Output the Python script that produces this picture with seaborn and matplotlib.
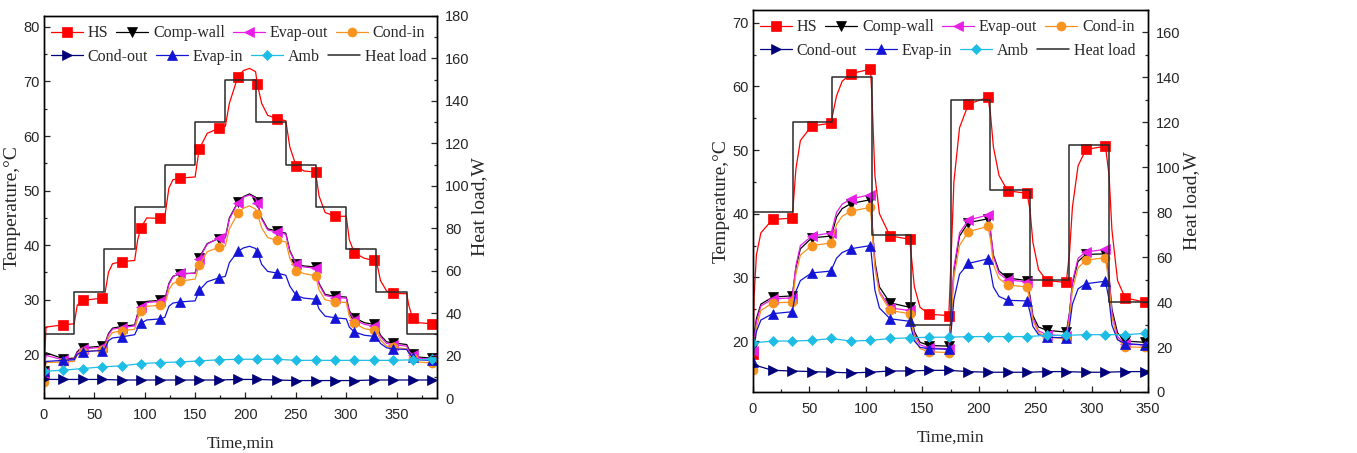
import numpy as np
import matplotlib
matplotlib.use("Agg")
import matplotlib.pyplot as plt
from matplotlib.ticker import MultipleLocator
import seaborn as sns

# --- 1. Data (read off the two test runs) ---
# left run: ramp up / ramp down of heat load, markers every 19.25 min
left_marker_t = [0, 19.25, 38.5, 57.75, 77, 96.25, 115.5, 134.75, 154, 173.25, 192.5,
                 211.75, 231, 250.25, 269.5, 288.75, 308, 327.25, 346.5, 365.75, 385]
left_t = [0, 2, 19.25, 30, 33, 38.5, 57.75, 60, 64, 68, 77, 90, 93, 96.25, 102, 115.5,
          120, 124, 128, 134.75, 150, 154, 162, 173.25, 180, 184, 192.5, 198, 204, 210,
          211.75, 216, 222, 231, 240, 244, 250.25, 258, 269.5, 273, 279, 288.75, 300, 303,
          308, 318, 327.25, 330, 334, 340, 346.5, 360, 362, 365.75, 372, 385, 389]
left_hs = [16.5, 25.0, 25.4, 25.6, 29.0, 29.9, 30.3, 30.6, 35.0, 36.6, 37.0, 37.2, 41.0, 43.2,
           45.0, 44.9, 45.3, 50.5, 52.0, 52.3, 52.5, 57.6, 60.5, 61.4, 61.8, 66.0, 70.9, 72.0,
           72.4, 71.8, 69.5, 66.0, 63.8, 63.2, 62.8, 58.0, 54.5, 53.6, 53.4, 49.0, 46.0, 45.3,
           45.3, 41.0, 38.6, 37.6, 37.2, 37.0, 33.5, 31.6, 31.2, 31.1, 29.0, 26.7, 25.8, 25.6, 25.6]
left_comp = [17.0, 20.3, 19.2, 19.3, 20.5, 21.2, 21.5, 21.7, 23.8, 24.8, 25.1, 25.4, 27.5, 28.8,
             29.7, 29.9, 30.1, 33.0, 34.3, 34.7, 34.9, 37.7, 40.3, 41.2, 41.4, 45.0, 47.9, 48.9,
             49.4, 48.8, 47.9, 45.0, 43.0, 42.6, 42.2, 39.0, 36.6, 36.2, 36.0, 33.0, 31.0, 30.6,
             30.5, 28.0, 26.7, 25.8, 25.5, 25.3, 23.5, 22.3, 22.1, 21.8, 21.0, 20.1, 19.5, 19.3, 19.3]
left_evap_out = [16.5, 19.8, 19.0, 19.1, 20.3, 21.0, 21.3, 21.5, 23.6, 24.6, 24.9, 25.2, 27.3,
                 28.6, 29.5, 29.7, 29.9, 32.8, 34.2, 34.9, 34.8, 37.5, 40.2, 41.3, 41.3, 44.8,
                 47.8, 48.8, 49.2, 48.6, 47.7, 44.8, 42.8, 42.4, 42.0, 38.8, 36.6, 36.0, 35.8,
                 32.8, 30.8, 30.4, 30.3, 27.8, 26.3, 25.5, 25.2, 25.0, 23.2, 22.0, 21.8, 21.5,
                 20.7, 19.8, 19.3, 19.1, 19.1]
left_cond_in = [15.0, 18.5, 18.6, 18.7, 19.8, 20.5, 20.8, 21.0, 23.0, 24.0, 24.3, 24.6, 26.5,
                27.9, 28.8, 29.0, 29.2, 31.8, 33.0, 33.4, 33.8, 36.3, 38.8, 39.6, 39.9, 43.0,
                45.9, 46.8, 47.2, 46.6, 45.8, 43.2, 41.4, 40.9, 40.6, 37.6, 35.3, 34.8, 34.4,
                31.8, 30.0, 29.6, 29.5, 27.0, 25.7, 24.7, 24.4, 24.3, 22.6, 21.5, 21.3, 21.0,
                20.2, 19.4, 18.6, 18.4, 18.4]
left_evap_in = [17.0, 18.7, 18.9, 19.0, 20.0, 20.5, 20.7, 20.9, 22.5, 23.0, 23.2, 23.6, 24.8,
                25.7, 26.3, 26.5, 26.8, 28.8, 29.4, 29.6, 29.8, 31.7, 33.3, 34.0, 34.3, 36.8,
                38.9, 39.5, 39.8, 39.4, 38.8, 36.5, 35.2, 34.9, 34.5, 32.5, 30.8, 30.3, 30.1,
                28.3, 27.0, 26.7, 26.5, 25.0, 24.1, 23.5, 23.3, 23.2, 22.0, 21.2, 21.0, 20.9,
                20.3, 19.5, 19.0, 18.9, 18.9]
left_slow_t = left_marker_t + [389]
left_amb = [16.9, 17.1, 17.4, 17.7, 17.9, 18.3, 18.5, 18.6, 18.8, 19.0, 19.1, 19.1, 19.1,
            18.9, 18.9, 18.9, 18.9, 18.9, 18.9, 19.0, 19.1, 19.1]
left_cond_out = [15.4, 15.4, 15.4, 15.4, 15.3, 15.3, 15.3, 15.3, 15.3, 15.3, 15.4, 15.4, 15.3,
                 15.2, 15.2, 15.2, 15.2, 15.3, 15.3, 15.3, 15.3, 15.3]
left_load_t = [0, 30, 60, 90, 120, 150, 180, 210, 240, 270, 300, 330, 360, 390]
left_load_w = [30, 50, 70, 90, 110, 130, 150, 130, 110, 90, 70, 50, 30, 30]

# right run: load switching, markers every 17.35 min
right_marker_t = [0, 17.35, 34.7, 52.05, 69.4, 86.75, 104.1, 121.45, 138.8, 156.15, 173.5,
                  190.85, 208.2, 225.55, 242.9, 260.25, 277.6, 294.95, 312.3, 329.65, 347]
right_t = [0, 1, 3, 7, 17.35, 34.7, 35.5, 38, 42, 52.05, 69.4, 70.5, 74, 79, 86.75, 104.1,
           105.5, 108, 112, 121.45, 138.8, 140.5, 143, 148, 156.15, 173.5, 175.5, 178, 183,
           190.85, 208.2, 210.5, 213, 218, 225.55, 242.9, 245.5, 248, 253, 260.25, 277.6,
           280.5, 283, 288, 294.95, 312.3, 315.5, 318, 323, 329.65, 347, 350]
right_hs = [18.0, 27.0, 33.5, 37.0, 39.1, 39.3, 41.0, 47.0, 51.5, 53.8, 54.2, 55.5, 58.5, 60.8,
            62.0, 62.7, 58.0, 46.0, 40.0, 36.5, 36.0, 33.0, 28.5, 25.3, 24.2, 24.0, 33.0, 45.0,
            53.5, 57.2, 58.3, 55.5, 50.5, 46.0, 43.6, 43.2, 40.5, 35.5, 31.2, 29.5, 29.2, 34.0,
            41.0, 47.5, 50.1, 50.6, 46.0, 37.5, 29.5, 26.8, 26.1, 26.1]
right_comp = [19.0, 21.0, 23.5, 25.8, 26.9, 27.1, 28.0, 31.5, 34.5, 36.2, 36.5, 37.2, 39.5,
              40.8, 41.6, 42.2, 38.5, 32.5, 28.5, 26.0, 25.3, 23.8, 21.5, 19.8, 19.3, 19.2,
              24.0, 31.0, 36.5, 38.6, 39.2, 37.0, 33.5, 31.0, 29.9, 29.5, 27.0, 24.0, 22.2,
              21.7, 21.4, 24.5, 29.0, 32.5, 33.6, 33.7, 30.0, 25.0, 21.3, 20.0, 19.8, 19.8]
right_evap_out = [18.5, 20.5, 23.0, 25.5, 26.6, 26.8, 28.0, 31.8, 35.0, 36.5, 37.0, 37.8,
                  40.2, 41.5, 42.3, 43.0, 38.8, 32.0, 27.8, 25.2, 24.8, 23.3, 21.0, 19.4,
                  18.9, 18.8, 24.0, 31.5, 37.0, 39.0, 39.8, 37.3, 33.3, 30.6, 29.6, 29.3,
                  26.7, 23.6, 21.6, 21.0, 20.8, 24.5, 29.3, 33.0, 34.0, 34.4, 30.2, 24.5,
                  20.7, 19.5, 19.4, 19.4]
right_cond_in = [15.5, 19.0, 22.0, 24.8, 26.0, 26.1, 27.0, 30.5, 33.5, 35.0, 35.4, 36.0, 38.3,
                 39.6, 40.4, 41.0, 37.5, 31.5, 27.5, 24.8, 24.3, 22.8, 20.5, 18.8, 18.3, 18.2,
                 23.0, 30.0, 35.0, 37.2, 38.0, 35.8, 32.0, 29.8, 28.8, 28.5, 26.0, 23.2, 21.3,
                 20.6, 20.4, 23.5, 28.0, 31.5, 32.7, 33.1, 29.0, 23.8, 20.3, 19.1, 19.0, 19.0]
right_evap_in = [16.7, 19.0, 21.5, 23.3, 24.3, 24.6, 25.3, 27.8, 29.5, 30.7, 31.0, 31.6, 33.0,
                 33.9, 34.5, 35.0, 32.5, 28.0, 25.2, 23.5, 23.1, 21.8, 20.0, 19.0, 18.8, 18.7,
                 21.5, 26.5, 30.5, 32.2, 32.9, 31.0, 28.5, 27.0, 26.4, 26.3, 24.5, 22.3, 21.0,
                 20.6, 20.5, 22.5, 25.8, 28.2, 29.0, 29.4, 26.5, 22.5, 20.2, 19.6, 19.4, 19.4]
right_slow_t = right_marker_t + [350]
right_amb = [19.7, 20.0, 20.0, 20.1, 20.4, 20.0, 20.1, 20.4, 20.5, 20.6, 20.6, 20.7, 20.7,
             20.7, 20.7, 20.9, 20.9, 21.0, 21.0, 21.0, 21.2, 21.2]
right_cond_out = [16.3, 15.4, 15.3, 15.2, 15.1, 15.0, 15.1, 15.3, 15.3, 15.4, 15.4, 15.2, 15.1,
                  15.1, 15.1, 15.2, 15.2, 15.1, 15.1, 15.2, 15.2, 15.2]
right_load_t = [0, 35, 70, 105, 140, 175, 210, 245, 280, 315, 350]
right_load_w = [80, 120, 140, 70, 30, 130, 90, 50, 110, 40, 40]

# --- 2. Style ---
sns.set_style("ticks")
plt.rcParams["font.family"] = ["Liberation Serif", "DejaVu Serif"]

STYLE = {
    "HS": ("#ff0000", "s", 6.5),
    "Comp-wall": ("#000000", "v", 7),
    "Evap-out": ("#e81ee8", "<", 7),
    "Cond-in": ("#f7931e", "o", 6.5),
    "Cond-out": ("#00007a", ">", 7),
    "Evap-in": ("#1414d6", "^", 7),
    "Amb": ("#1ebde6", "D", 5.5),
}
LOAD_COLOR = "#2a2a2a"
TICK_FONT = "Liberation Sans"
ROW1 = ["HS", "Comp-wall", "Evap-out", "Cond-in"]
ROW2 = ["Cond-out", "Evap-in", "Amb", "Heat load"]


def draw_line(ax, t, v, name, marker_t):
    color, marker, ms = STYLE[name]
    t = np.asarray(t, dtype=float)
    mask = np.isin(np.round(t, 2), np.round(marker_t, 2))
    sns.lineplot(x=t, y=np.asarray(v, dtype=float), ax=ax, color=color, lw=0.9,
                 marker=marker, markevery=list(mask), markersize=ms,
                 markeredgecolor=color, markeredgewidth=0.5, label=name,
                 estimator=None, sort=False, legend=False)


def draw_panel(ax, run, xlim, ylim, load_ylim, load_max):
    marker_t = run["marker_t"]
    for name, v in run["fast"].items():
        draw_line(ax, run["t"], v, name, marker_t)
    for name, v in run["slow"].items():
        draw_line(ax, run["slow_t"], v, name, marker_t)

    ax2 = ax.twinx()
    sns.lineplot(x=run["load_t"], y=run["load_w"], ax=ax2, color=LOAD_COLOR, lw=1.1,
                 drawstyle="steps-post", label="Heat load", estimator=None, sort=False,
                 legend=False)

    ax.set_xlim(*xlim)
    ax.set_ylim(*ylim)
    ax2.set_ylim(*load_ylim)
    ax.xaxis.set_major_locator(MultipleLocator(50))
    ax.xaxis.set_minor_locator(MultipleLocator(25))
    ax.yaxis.set_major_locator(MultipleLocator(10))
    ax.yaxis.set_minor_locator(MultipleLocator(5))
    ax2.set_yticks(np.arange(0, load_max + 1, 20))
    ax2.yaxis.set_minor_locator(MultipleLocator(10))

    ax.tick_params(which="both", direction="in", top=False, right=False, width=0.9)
    ax.tick_params(which="major", length=4.5, labelsize=10.5)
    ax.tick_params(axis="x", which="major", pad=7)
    ax.tick_params(axis="y", which="major", pad=3)
    ax.tick_params(which="minor", length=2.5)
    ax2.tick_params(which="both", direction="in", width=0.9)
    ax2.tick_params(which="major", length=4.5, labelsize=10.5, pad=6)
    ax2.tick_params(which="minor", length=2.5)
    for lab in ax.get_xticklabels() + ax.get_yticklabels() + ax2.get_yticklabels():
        lab.set_fontfamily(TICK_FONT)
    for sp in list(ax.spines.values()) + list(ax2.spines.values()):
        sp.set_linewidth(1.0)
        sp.set_color("black")

    ax.set_xlabel("Time,min", fontsize=12.5)
    ax.set_ylabel("Temperature,°C", fontsize=14)
    ax2.set_ylabel("Heat load,W", fontsize=14)
    ax.xaxis.set_label_coords(0.5, -0.098)
    ax.yaxis.set_label_coords(-0.06, 0.5)
    ax2.yaxis.set_label_coords(1.088, 0.5)

    # two legend rows, each flowing on its own like the original
    h1, l1 = ax.get_legend_handles_labels()
    h2, l2 = ax2.get_legend_handles_labels()
    handles = dict(zip(l1 + l2, h1 + h2))
    opts = dict(ncol=4, loc="center left", frameon=False, fontsize=11.5,
                handlelength=2.0, handletextpad=0.3, columnspacing=0.5,
                borderaxespad=0, borderpad=0)
    top_row = ax2.legend([handles[k] for k in ROW1], ROW1,
                         bbox_to_anchor=(0.018, 0.955), **opts)
    ax2.add_artist(top_row)
    ax2.legend([handles[k] for k in ROW2], ROW2, bbox_to_anchor=(0.018, 0.893), **opts)
    return ax2


left_run = {
    "marker_t": left_marker_t, "t": left_t, "slow_t": left_slow_t,
    "fast": {"HS": left_hs, "Comp-wall": left_comp, "Evap-out": left_evap_out,
             "Cond-in": left_cond_in, "Evap-in": left_evap_in},
    "slow": {"Cond-out": left_cond_out, "Amb": left_amb},
    "load_t": left_load_t, "load_w": left_load_w,
}
right_run = {
    "marker_t": right_marker_t, "t": right_t, "slow_t": right_slow_t,
    "fast": {"HS": right_hs, "Comp-wall": right_comp, "Evap-out": right_evap_out,
             "Cond-in": right_cond_in, "Evap-in": right_evap_in},
    "slow": {"Cond-out": right_cond_out, "Amb": right_amb},
    "load_t": right_load_t, "load_w": right_load_w,
}

# --- 3. Figure ---
fig = plt.figure(figsize=(13.57, 4.53), dpi=100)
ax_l = fig.add_axes([0.0324, 0.1214, 0.2896, 0.8433])
ax_r = fig.add_axes([0.5549, 0.1347, 0.2911, 0.8433])

draw_panel(ax_l, left_run, (0, 390), (12, 82), (0, 180), 180)
draw_panel(ax_r, right_run, (0, 350), (12, 72), (0, 170), 160)

fig.savefig("out.png", dpi=100)
plt.close(fig)
print("saved out.png")
